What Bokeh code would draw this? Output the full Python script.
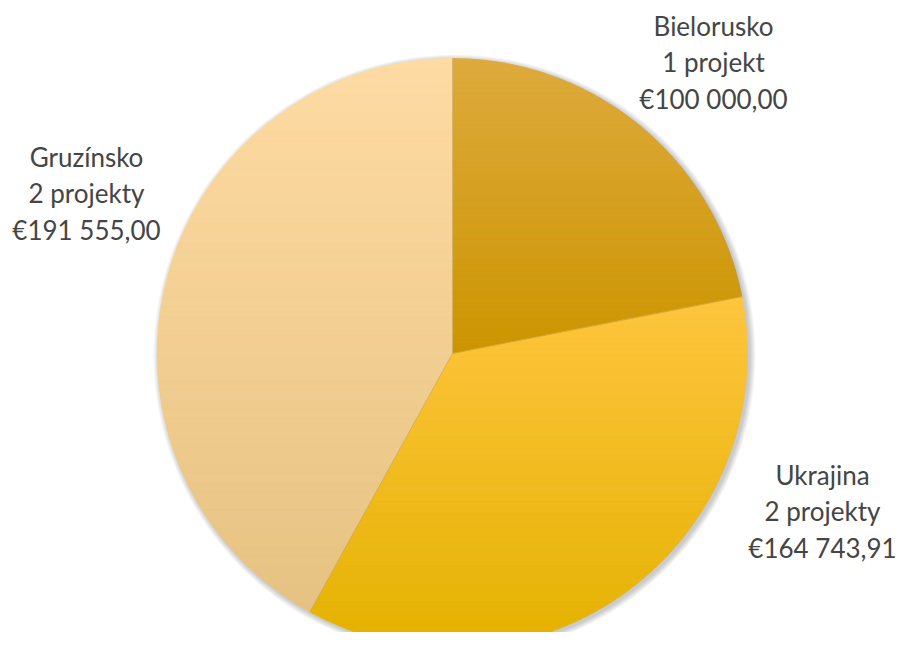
import numpy as np
from bokeh.plotting import figure
from bokeh.models import Range1d
from bokeh.core.properties import value
from bokeh.embed import file_html
from bokeh.resources import INLINE

# ---- data ----
countries = ["Bielorusko", "Ukrajina", "Gruzínsko"]
project_labels = ["1 projekt", "2 projekty", "2 projekty"]
amounts = [100000.00, 164743.91, 191555.00]
amount_labels = ["€100 000,00", "€164 743,91", "€191 555,00"]

# ---- style ----
top_colors = ["#DEAA3C", "#FFC53E", "#FEDBA2"]
bottom_colors = ["#CC9500", "#E4B200", "#E6C282"]
label_pos = [(713, 25), (822, 474), (86, 156)]  # image px (center x, first line y)
line_gap = 36.5

W, H = 898, 632
cx, cy, R = 452, H - 353, 295


def hex2rgb(h):
    h = h.lstrip("#")
    return np.array([int(h[i:i + 2], 16) for i in (0, 2, 4)], dtype=float)


def rgb2hex(c):
    c = np.clip(np.round(c), 0, 255).astype(int)
    return "#%02x%02x%02x" % tuple(c)


def clip(poly, yv, keep_above):
    out = []
    n = len(poly)
    for i in range(n):
        a = poly[i]
        b = poly[(i + 1) % n]
        ina = a[1] >= yv if keep_above else a[1] <= yv
        inb = b[1] >= yv if keep_above else b[1] <= yv
        if ina:
            out.append(a)
        if ina != inb:
            t = (yv - a[1]) / (b[1] - a[1])
            out.append((a[0] + t * (b[0] - a[0]), yv))
    return out


p = figure(width=W, height=H, output_backend="svg", toolbar_location=None,
           x_range=Range1d(0, W), y_range=Range1d(0, H), min_border=0)
p.axis.visible = False
p.grid.visible = False
p.outline_line_color = None
p.background_fill_color = "white"

# soft shadow
for k in range(6, 0, -1):
    p.circle(x=[cx + 2], y=[cy - 2], radius=R + k, fill_color="#000000",
             fill_alpha=0.035, line_color=None)

total = float(sum(amounts))
start = np.pi / 2
xs_all, ys_all, cols = [], [], []
edges = []
for i, amt in enumerate(amounts):
    sweep = 2 * np.pi * amt / total
    end = start - sweep
    th = np.linspace(start, end, 200)
    poly = [(cx, cy)] + [(cx + R * np.cos(t), cy + R * np.sin(t)) for t in th]
    edges.append((start, end))
    ys_ = [q[1] for q in poly]
    ymin, ymax = min(ys_), max(ys_)
    nb = 60
    bands = np.linspace(ymax, ymin, nb + 1)
    c0, c1 = hex2rgb(top_colors[i]), hex2rgb(bottom_colors[i])
    for b in range(nb):
        y_hi, y_lo = bands[b], bands[b + 1]
        piece = clip(clip(poly, y_lo, True), y_hi, False)
        if len(piece) < 3:
            continue
        f = (b + 0.5) / nb
        cols.append(rgb2hex(c0 + (c1 - c0) * f))
        xs_all.append([q[0] for q in piece])
        ys_all.append([q[1] for q in piece])
    start = end

p.patches(xs=xs_all, ys=ys_all, fill_color=cols, line_color=cols, line_width=0.8)

# slice separators
for (s, e) in edges:
    p.line(x=[cx, cx + R * np.cos(s)], y=[cy, cy + R * np.sin(s)],
           line_color="#9a7a3a", line_alpha=0.45, line_width=0.8)

# labels
for i in range(len(countries)):
    lx, ly = label_pos[i]
    lines = [countries[i], project_labels[i], amount_labels[i]]
    for j, t in enumerate(lines):
        p.text(x=[lx], y=[H - (ly + j * line_gap)], text=[t],
               text_font=value("Lato"), text_font_size="26px",
               text_color="#454545", text_align="center",
               text_baseline="middle")

open("out.html", "w").write(file_html(p, INLINE))
